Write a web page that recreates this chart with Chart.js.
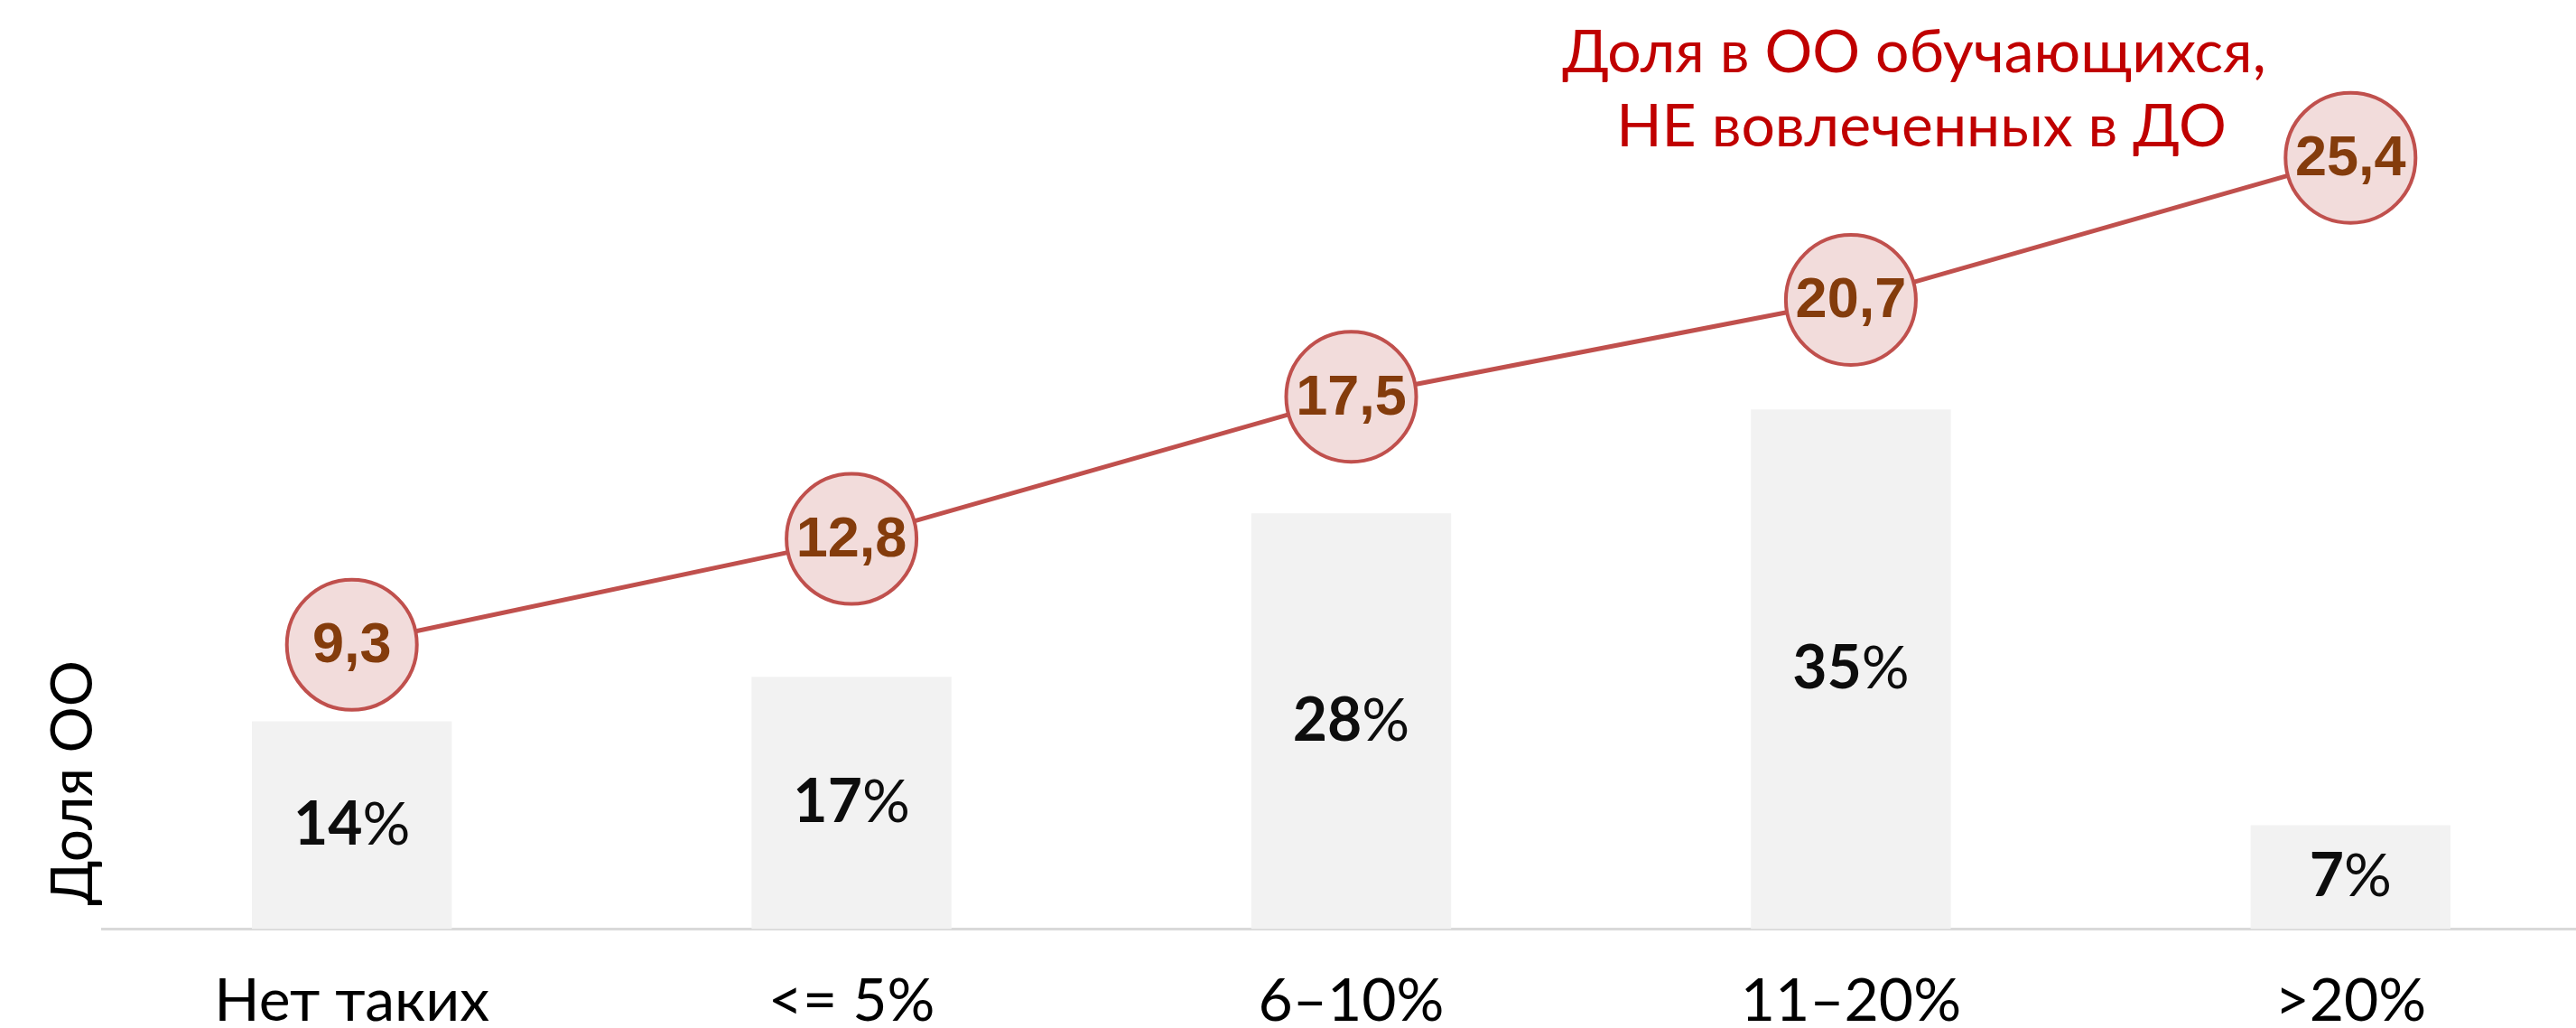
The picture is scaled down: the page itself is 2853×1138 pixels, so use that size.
<!DOCTYPE html>
<html>
<head>
<meta charset="utf-8">
<title>Доля ОО</title>
<script src="https://cdn.jsdelivr.net/npm/chart.js@4/dist/chart.umd.min.js"></script>
<style>
  html, body { margin: 0; padding: 0; background: #fff; overflow: hidden; }
  /* the plot runs a little past the right edge in the original */
  #wrap { width: 2880px; height: 1138px; }
</style>
</head>
<body>
<div id="wrap"><canvas id="chart" width="2880" height="1138"></canvas></div>
<script>
// categories and series
const categories = ['Нет таких', '<= 5%', '6–10%', '11–20%', '>20%'];
const shareOO = [14, 17, 28, 35, 7];
const notInvolved = [9.3, 12.8, 17.5, 20.7, 25.4];
const lineTitle = ['Доля в ОО обучающихся,', 'НЕ вовлеченных в ДО'];
const axisTitle = 'Доля ОО';

const FONT = 'Lato, "Noto Sans", sans-serif';

// value labels inside bars and circles, axis title and the red caption
const labelsPlugin = {
  id: 'labels',
  afterDatasetsDraw(chart) {
    const ctx = chart.ctx;
    const area = chart.chartArea;
    ctx.save();
    ctx.textBaseline = 'middle';

    // bar labels: bold number + regular %
    const barMeta = chart.getDatasetMeta(0);
    barMeta.data.forEach((bar, i) => {
      const num = String(shareOO[i]);
      const cy = (bar.y + bar.base) / 2;
      ctx.font = 'bold 66px ' + FONT;
      const wNum = ctx.measureText(num).width;
      ctx.font = '66px ' + FONT;
      const wPct = ctx.measureText('%').width;
      const x0 = bar.x - (wNum + wPct) / 2;
      ctx.fillStyle = '#0d0d0d';
      ctx.textAlign = 'left';
      ctx.font = 'bold 66px ' + FONT;
      ctx.fillText(num, x0, cy);
      ctx.font = '66px ' + FONT;
      ctx.fillText('%', x0 + wNum, cy);
    });

    // circle labels
    const lineMeta = chart.getDatasetMeta(1);
    ctx.font = 'bold 63px "Liberation Sans", Arial, sans-serif';
    ctx.fillStyle = '#843C0C';
    ctx.textAlign = 'center';
    lineMeta.data.forEach((pt, i) => {
      ctx.fillText(notInvolved[i].toFixed(1).replace('.', ','), pt.x, pt.y + 2);
    });

    // rotated axis title, sitting a bit above the baseline
    const yScale = chart.scales.y;
    ctx.save();
    ctx.translate(yScale.left + yScale.width / 2, area.bottom - 26);
    ctx.rotate(-Math.PI / 2);
    ctx.font = '64px ' + FONT;
    ctx.fillStyle = '#000';
    ctx.textAlign = 'left';
    ctx.fillText(axisTitle, 0, 0);
    ctx.restore();

    // caption for the line
    ctx.font = '66px ' + FONT;
    ctx.fillStyle = '#C00000';
    ctx.textAlign = 'center';
    ctx.textBaseline = 'alphabetic';
    ctx.fillText(lineTitle[0], 2120, 80);
    ctx.fillText(lineTitle[1], 2128, 162);
    ctx.restore();
  }
};

new Chart(document.getElementById('chart'), {
  data: {
    labels: categories,
    datasets: [
      {
        type: 'bar',
        data: shareOO,
        backgroundColor: '#F2F2F2',
        borderWidth: 0,
        barPercentage: 0.4,
        categoryPercentage: 1,
        yAxisID: 'y',
        order: 2
      },
      {
        type: 'line',
        data: notInvolved,
        borderColor: '#C0504D',
        borderWidth: 5,
        pointRadius: 72,
        pointHoverRadius: 72,
        pointBorderWidth: 4,
        pointBackgroundColor: '#F2DCDB',
        pointBorderColor: '#C0504D',
        tension: 0,
        clip: false,
        yAxisID: 'y2',
        order: 1
      }
    ]
  },
  options: {
    responsive: false,
    devicePixelRatio: 1,
    animation: false,
    layout: { autoPadding: false, padding: { left: 49, top: 34, right: 0, bottom: 0 } },
    plugins: {
      legend: { display: false },
      tooltip: { enabled: false }
    },
    scales: {
      x: {
        offset: true,
        grid: { display: false, drawTicks: false },
        border: { display: true, color: '#D9D9D9', width: 3 },
        ticks: {
          color: '#000',
          padding: 50,
          font: { family: FONT, size: 66, lineHeight: 0.9 }
        },
        afterFit(scale) {
          scale.height = 109.4;
          scale.paddingLeft = 0;
          scale.paddingRight = 0;
        }
      },
      y: {
        position: 'left',
        min: 0,
        max: 60.5,
        grid: { display: false, drawTicks: false },
        border: { display: false },
        ticks: { display: false },
        afterFit(scale) {
          scale.width = 64; // room for the rotated title
        }
      },
      y2: {
        display: false,
        position: 'right',
        min: -0.1,
        max: 29.6
      }
    }
  },
  plugins: [labelsPlugin]
});
</script>
</body>
</html>
